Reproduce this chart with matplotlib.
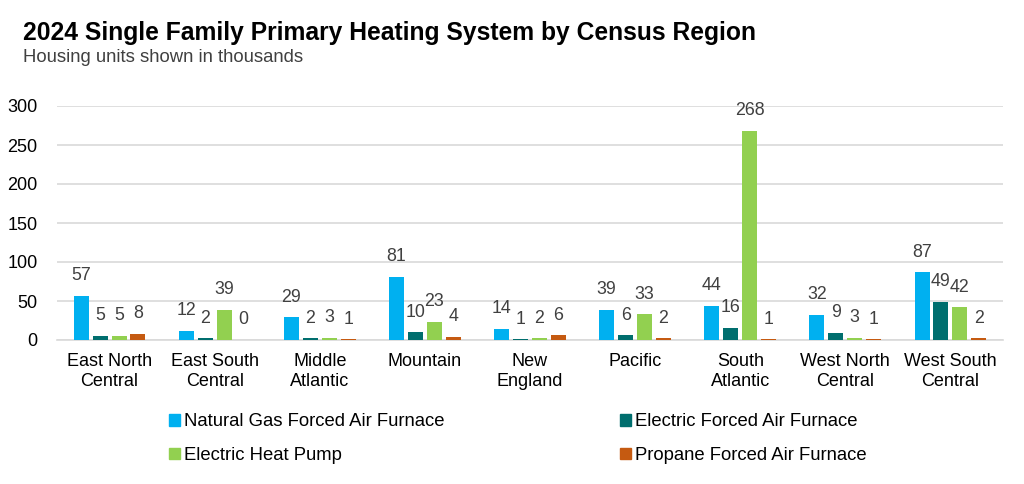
import numpy as np
import matplotlib
matplotlib.use('Agg')
import matplotlib.pyplot as plt
from matplotlib.patches import Patch

plt.rcParams['font.family'] = ['Liberation Sans', 'DejaVu Sans']

regions = ['East North\nCentral', 'East South\nCentral', 'Middle\nAtlantic', 'Mountain',
           'New\nEngland', 'Pacific', 'South\nAtlantic', 'West North\nCentral', 'West South\nCentral']
series_names = ['Natural Gas Forced Air Furnace', 'Electric Forced Air Furnace',
                'Electric Heat Pump', 'Propane Forced Air Furnace']
natural_gas = [57, 12, 29, 81, 14, 39, 44, 32, 87]
electric_furnace = [5, 2, 2, 10, 1, 6, 16, 9, 49]
heat_pump = [5, 39, 3, 23, 2, 33, 268, 3, 42]
propane = [8, 0, 1, 4, 6, 2, 1, 1, 2]
colors = ['#00B0F0', '#006E6E', '#92D050', '#C55A11']

fig = plt.figure(figsize=(10.24, 4.84), dpi=100)
ax = fig.add_axes([57 / 1024, 1 - 340 / 484, 946 / 1024, 234 / 484])

x = np.arange(len(regions))
width = 0.143
step = 0.18
all_series = [natural_gas, electric_furnace, heat_pump, propane]
for i, (vals, col) in enumerate(zip(all_series, colors)):
    pos = x + (i - 1.5) * step
    ax.bar(pos, vals, width, color=col, zorder=3)
    for px, v in zip(pos, vals):
        ax.annotate(str(v), (px, v), xytext=(0, 14.5), textcoords='offset points',
                    ha='center', va='center', fontsize=12.8, color='#404040')

ax.set_xlim(-0.5, len(regions) - 0.5)
ax.set_ylim(0, 300)
ax.set_yticks(range(0, 301, 50))
ax.set_xticks(x)
ax.set_xticklabels(regions, fontsize=13, color='#000000', linespacing=1.3)
ax.tick_params(axis='y', labelsize=13, length=0, pad=14)
ax.tick_params(axis='x', length=0, pad=9)
ax.grid(axis='y', color='#D9D9D9', linewidth=1.2, zorder=0)
for s in ['top', 'right', 'left']:
    ax.spines[s].set_visible(False)
ax.spines['bottom'].set_color('#D9D9D9')
ax.spines['bottom'].set_linewidth(1.2)

fig.text(23 / 1024, 1 - 33 / 484, '2024 Single Family Primary Heating System by Census Region',
         fontsize=17.7, fontweight='bold', va='center')
fig.text(23 / 1024, 1 - 58 / 484, 'Housing units shown in thousands',
         fontsize=13.3, color='#404040', va='center')

handles = [Patch(color=c) for c in colors]
order = [0, 2, 1, 3]
fig.legend([handles[i] for i in order], [series_names[i] for i in order],
           ncol=2, frameon=False, fontsize=13.3, handlelength=0.6, handleheight=0.6,
           handletextpad=0.2, columnspacing=9.5, labelspacing=0.9,
           loc='upper left', bbox_to_anchor=(162 / 1024, 1 - 406 / 484), borderaxespad=0)

fig.savefig('out.png', dpi=100)
